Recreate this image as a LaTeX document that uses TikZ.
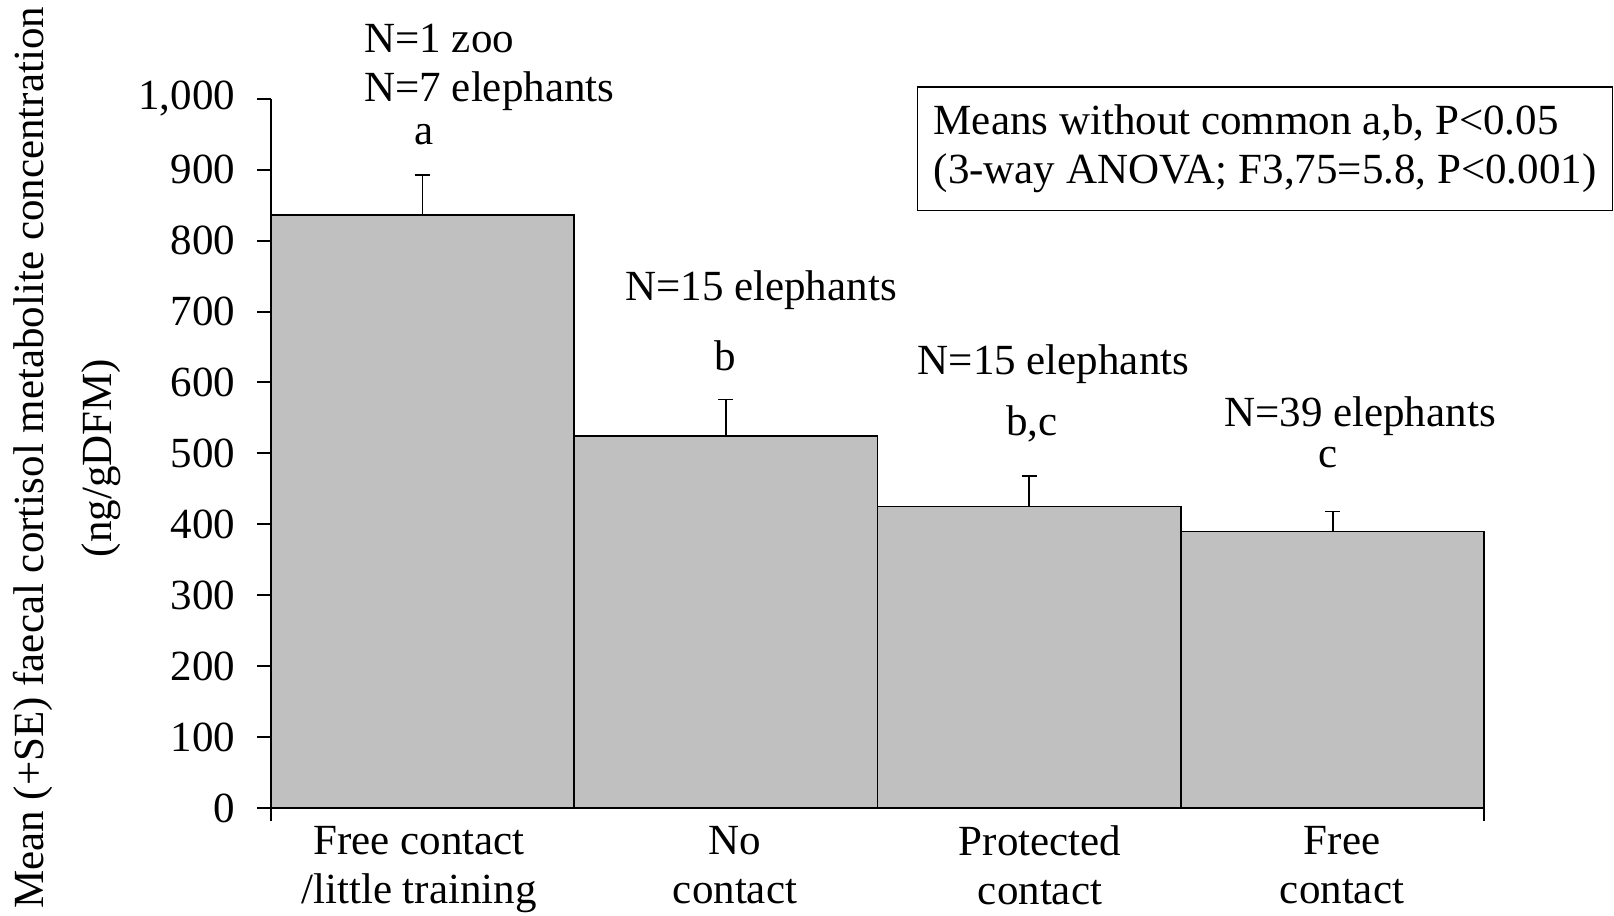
\documentclass[tikz,border=0pt]{standalone}
\usepackage{fontspec}
\setmainfont{Liberation Serif}
\usetikzlibrary{positioning}
\definecolor{bargrey}{HTML}{C0C0C0}
\newcommand{\chartfont}{\fontsize{21.5}{24.5}\selectfont}
\tikzstyle{bar} = [draw, fill=bargrey, line width=0.9pt]
\tikzstyle{errbar} = [line width=0.9pt]
\tikzstyle{axis} = [line width=1pt]
\tikzstyle{lbl} = [inner sep=0pt, font=\chartfont]
\tikzstyle{notebox} = [draw, line width=0.6pt, align=left, inner sep=0pt,
minimum width=347.5pt, minimum height=61.75pt, font=\chartfont]

\begin{document}
\begin{tikzpicture}[x=0.5pt,y=0.5pt]
    \useasboundingbox (0,0) rectangle (1614,916);
    % bars, error bars and axes in data units
    \begin{scope}[shift={(270.7,108)}, x=151.7pt, y=0.3546pt]
        \foreach \i/\val/\se in {0/836/893, 1/524/576, 2/425/468, 3/390/418} {
            \draw [bar] (\i,0) rectangle (\i+1,\val);
            \draw [errbar] (\i+0.5,\val) -- (\i+0.5,\se) ++(-3.75pt,0) -- ++(7.5pt,0);
        }
        \draw [axis] (0,1000) -- (0,0) -- (4,0);
        \draw [axis] (0,0) -- ++(0,-6.5pt);
        \draw [axis] (4,0) -- ++(0,-6.5pt);
        \foreach \t/\tl in {0/0,100/100,200/200,300/300,400/400,500/500,600/600,700/700,800/800,900/900,1000/{1,000}}
            \draw [axis] (0,\t) -- ++(-7pt,0) node (tick\t) [lbl, anchor=east, xshift=-10.35pt] {\tl};
    \end{scope}
    % group sizes and letters
    \node (n1) [lbl, anchor=north west, align=left] at (364,892.3) {N=1 zoo\\N=7 elephants};
    \node (a) [lbl, anchor=base] at (424,771) {a};
    \node (n2) [lbl, anchor=base] at (761,615) {N=15 elephants};
    \node (b) [lbl, anchor=base] at (725.7,545) {b};
    \node (n3) [lbl, anchor=base] at (1053.5,541) {N=15 elephants};
    \node (bc) [lbl, anchor=base] at (1032,480) {b,c};
    \node (n4) [lbl, anchor=base] at (1360,489) {N=39 elephants};
    \node (c) [lbl, anchor=base] at (1328,448) {c};
    % categories
    \node (cat1) [lbl, anchor=north, align=center] at (419,90.4) {Free contact\\/little training};
    \node (cat2) [lbl, anchor=north, align=center] at (735,90.4) {No\\contact};
    \node (cat3) [lbl, anchor=north, align=center] at (1040,90.4) {Protected\\contact};
    \node (cat4) [lbl, anchor=north, align=center] at (1342,90.4) {Free\\contact};
    % note and axis title
    \node (note) [notebox, anchor=north west] at (917,829.5) {Means without common a,b, P<0.05\\(3-way ANOVA; F3,75=5.8, P<0.001)};
    \node (ylab) [lbl, rotate=90, align=center] at (67,458) {Mean (+SE) faecal cortisol metabolite concentration\\[9.5pt](ng/gDFM)};
\end{tikzpicture}
\end{document}
